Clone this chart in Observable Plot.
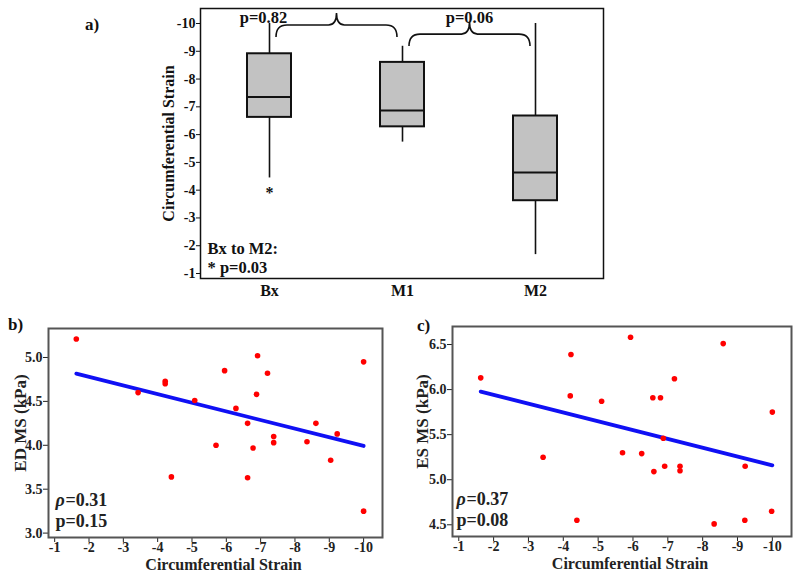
<!DOCTYPE html>
<html><head><meta charset="utf-8">
<script src="https://cdn.jsdelivr.net/npm/d3@7"></script>
<script src="https://cdn.jsdelivr.net/npm/@observablehq/plot@0.6"></script>
<style>
body{margin:0;background:#fff;}
#wrap{position:relative;width:800px;height:576px;overflow:hidden;font-family:"Liberation Serif","Times New Roman",serif;font-weight:bold;color:#111;}
#wrap>*{position:absolute;}
.plab{font-size:17px;line-height:1;}
</style></head><body><div id="wrap"></div>
<script>
// ---------- data ----------
const categories = ["Bx", "M1", "M2"];
const whiskerLow = [-4.44, -5.73, -1.68];
const q1 = [-6.62, -6.28, -3.62];
const median = [-7.35, -6.87, -4.64];
const q3 = [-8.91, -8.60, -6.67];
const whiskerHigh = [-10.0, -9.18, -10.0];
const outlierCat = ["Bx"];
const outlierVal = [-4.0];
const strainTicks = [-10, -9, -8, -7, -6, -5, -4, -3, -2, -1];

const braceFrom = ["Bx", "M1"];
const braceTo = ["M1", "M2"];
const braceLevel = [-9.93, -9.6];
const pLabels = ["p=0.82", "p=0.06"];
const pLevel = -10.22;
const noteLines = ["Bx to M2:", "* p=0.03"];

const strainB = [-1.63, -6.91, -10, -5.95, -7.2, -4.22, -4.22, -6.88, -3.43, -5.08, -6.28, -6.62, -8.61, -9.23, -7.38, -7.38, -8.35, -5.70, -6.78, -9.04, -4.40, -6.62, -10];
const edMS = [5.21, 5.02, 4.95, 4.85, 4.82, 4.73, 4.70, 4.58, 4.60, 4.51, 4.42, 4.25, 4.25, 4.13, 4.10, 4.03, 4.04, 4.00, 3.97, 3.83, 3.64, 3.63, 3.25];
const edTicks = [3.0, 3.5, 4.0, 4.5, 5.0];

const strainC = [-5.93, -8.59, -4.22, -1.63, -7.19, -4.20, -6.57, -6.79, -5.10, -10.0, -6.87, -3.42, -5.70, -6.25, -6.91, -7.35, -7.35, -6.60, -9.22, -9.98, -4.39, -8.33, -9.21];
const esMS = [6.58, 6.51, 6.39, 6.13, 6.12, 5.93, 5.91, 5.91, 5.87, 5.75, 5.46, 5.25, 5.30, 5.29, 5.15, 5.15, 5.10, 5.09, 5.15, 4.65, 4.55, 4.51, 4.55];
const esTicks = [4.5, 5.0, 5.5, 6.0, 6.5];

const statsB = {rho: "0.31", p: "p=0.15"};
const statsC = {rho: "0.37", p: "p=0.08"};

// ---------- helpers ----------
const wrap = document.getElementById("wrap");
const FONT = "Liberation Serif, Times New Roman, serif";
function place(el, left, top) { el.style.left = left + "px"; el.style.top = top + "px"; wrap.appendChild(el); }
function label(txt, left, top) { const d = document.createElement("div"); d.className = "plab"; d.textContent = txt; place(d, left, top); }

// ---------- panel a ----------
const boxData = categories.map((c, i) => ({c, lo: whiskerLow[i], q1: q1[i], med: median[i], q3: q3[i], hi: whiskerHigh[i]}));
const outliers = outlierCat.map((c, i) => ({c, v: outlierVal[i]}));

function braces(index, scales) {
  const x = scales.x, y = scales.y;
  const bw = x.bandwidth ? x.bandwidth() : 0;
  const cx = c => x(c) + bw / 2;
  const g = d3.create("svg:g");
  braceFrom.forEach((f, i) => {
    const x0 = cx(f) + 7, x1 = cx(braceTo[i]) - 5, yb = y(braceLevel[i]);
    const xm = (x0 + x1) / 2, drop = 12, rise = 12, r = 11, rm = 8;
    const d = `M${x0},${yb + drop}Q${x0},${yb} ${x0 + r},${yb}L${xm - rm},${yb}Q${xm},${yb} ${xm},${yb - rise}Q${xm},${yb} ${xm + rm},${yb}L${x1 - r},${yb}Q${x1},${yb} ${x1},${yb + drop}`;
    g.append("path").attr("d", d).attr("fill", "none").attr("stroke", "#111").attr("stroke-width", 1.6);
  });
  return g.node();
}

const plotA = Plot.plot({
  width: 620, height: 305,
  marginLeft: 200, marginRight: 17, marginTop: 8, marginBottom: 27,
  style: {fontFamily: FONT, fontWeight: "bold", fontSize: "14px", color: "#111", background: "transparent"},
  x: {type: "band", domain: categories, paddingInner: 0.672, paddingOuter: 0.34, label: null},
  y: {domain: [-0.82, -10.54], label: null},
  marks: [
    Plot.ruleX(boxData, {x: "c", y1: "lo", y2: "q1", stroke: "#111", strokeWidth: 1.6}),
    Plot.ruleX(boxData, {x: "c", y1: "q3", y2: "hi", stroke: "#111", strokeWidth: 1.6}),
    Plot.barY(boxData, {x: "c", y1: "q1", y2: "q3", fill: "#c2c2c2", stroke: "#111", strokeWidth: 2}),
    Plot.tickY(boxData, {x: "c", y: "med", stroke: "#111", strokeWidth: 2}),
    Plot.text(outliers, {x: "c", y: "v", text: () => "*", fontSize: 16, dy: 3}),
    braces,
    Plot.text([pLabels[0]], {x: () => braceFrom[0], y: () => pLevel, text: d => d, fontSize: 16.5, dx: -6}),
    Plot.text([pLabels[1]], {x: () => braceTo[0], y: () => pLevel, text: d => d, fontSize: 16.5, dx: 67}),
    Plot.text([noteLines[0]], {frameAnchor: "bottom-left", text: d => d, dx: 7, dy: -30, fontSize: 16.5, textAnchor: "start", lineAnchor: "middle"}),
    Plot.text([noteLines[1]], {frameAnchor: "bottom-left", text: d => d, dx: 7, dy: -11, fontSize: 16.5, textAnchor: "start", lineAnchor: "middle"}),
    Plot.axisY({ticks: strainTicks, tickFormat: d => String(d), tickSize: 4, tickPadding: 1, label: null, fontSize: 14}),
    Plot.axisX({tickSize: 0, tickPadding: 6, label: null, fontSize: 16}),
    Plot.text(["Circumferential Strain"], {frameAnchor: "left", text: d => d, dx: -32, rotate: -90, fontSize: 16, textAnchor: "middle", lineAnchor: "middle"}),
    Plot.frame({stroke: "#111", strokeWidth: 1.5})
  ]
});
place(plotA, 0, 0);
label("a)", 85, 16);

// ---------- panels b, c ----------
function scatter(xs, ys, opts) {
  const pts = xs.map((s, i) => ({s, v: ys[i]}));
  return Plot.plot({
    width: 400, height: 266,
    marginLeft: opts.mL, marginRight: opts.mR, marginTop: opts.mT, marginBottom: opts.mB,
    style: {fontFamily: FONT, fontWeight: "bold", fontSize: "14px", color: "#222", background: "transparent"},
    x: {domain: [-0.82, -10.55], label: null},
    y: {domain: opts.yDomain, label: null},
    marks: [
      Plot.linearRegressionY(pts, {x: "s", y: "v", stroke: "#1010f4", strokeWidth: 3.8, ci: 0}),
      Plot.dot(pts, {x: "s", y: "v", r: 2.8, fill: "#ff0000", stroke: "none"}),
      Plot.axisX({ticks: strainTicks, tickFormat: d => String(d), tickSize: 5, tickPadding: 0, label: null, fontSize: 14}),
      Plot.axisY({ticks: opts.yTicks, tickFormat: d3.format(".1f"), tickSize: 5, tickPadding: 1, label: null, fontSize: 14}),
      Plot.text(["Circumferential Strain"], {frameAnchor: "bottom", text: d => d, dx: 8, dy: 27, fontSize: 16, textAnchor: "middle", lineAnchor: "middle"}),
      Plot.text([opts.ylabel], {frameAnchor: "left", text: d => d, dx: opts.yLabDx, dy: -10, rotate: -90, fontSize: 17, textAnchor: "middle", lineAnchor: "middle"}),
      Plot.text(["ρ"], {frameAnchor: "bottom-left", text: d => d, dx: opts.statDx, dy: -37, fontSize: 18, fontStyle: "italic", textAnchor: "start", lineAnchor: "middle"}),
      Plot.text(["=" + opts.stats.rho], {frameAnchor: "bottom-left", text: d => d, dx: opts.statDx + 10, dy: -37, fontSize: 18, textAnchor: "start", lineAnchor: "middle"}),
      Plot.text([opts.stats.p], {frameAnchor: "bottom-left", text: d => d, dx: opts.statDx, dy: -16, fontSize: 18, textAnchor: "start", lineAnchor: "middle"}),
      Plot.frame({stroke: "#555", strokeWidth: 2})
    ]
  });
}

const plotB = scatter(strainB, edMS, {mL: 48, mR: 18, mT: 18, mB: 39, yDomain: [2.95, 5.33], yTicks: edTicks, ylabel: "ED MS (kPa)", yLabDx: -28, statDx: 7, stats: statsB});
place(plotB, 0, 310);
label("b)", 8, 316);

const plotC = scatter(strainC, esMS, {mL: 52, mR: 9, mT: 16, mB: 40, yDomain: [4.37, 6.70], yTicks: esTicks, ylabel: "ES MS (kPa)", yLabDx: -30, statDx: 4, stats: statsC});
place(plotC, 400, 310);
label("c)", 417, 317);
</script></body></html>
